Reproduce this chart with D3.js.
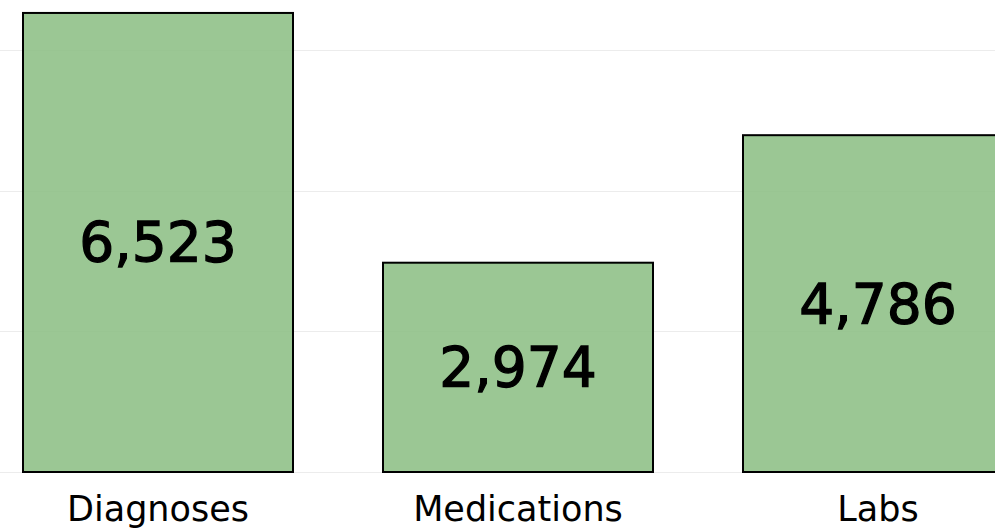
<!DOCTYPE html>
<html><head><meta charset="utf-8">
<script src="https://cdn.jsdelivr.net/npm/d3@7"></script>
<style>body{margin:0;background:#fff}svg{display:block}</style>
</head><body>
<svg id="c" width="995" height="528"></svg>
<script>
const categories = ["Diagnoses", "Medications", "Labs"];
const values = [6523, 2974, 4786];
const gridTicks = [0, 2000, 4000, 6000];

const svg = d3.select("#c");
const W = 995, H = 528;
const x = d3.scaleBand().domain(categories).range([-22, 1058]).paddingInner(0.25).paddingOuter(0.125);
const y = d3.scaleLinear().domain([0, 6707]).range([472, 0]);

svg.append("g").selectAll("line").data(gridTicks).join("line")
  .attr("x1", 0).attr("x2", W)
  .attr("y1", d => Math.round(y(d)) + 0.5).attr("y2", d => Math.round(y(d)) + 0.5)
  .attr("stroke", "#ececec").attr("stroke-width", 1);

svg.append("g").selectAll("rect").data(values).join("rect")
  .attr("x", (d, i) => x(categories[i]))
  .attr("y", d => y(d))
  .attr("width", x.bandwidth())
  .attr("height", d => y(0) - y(d))
  .attr("fill", "rgb(138,190,130)").attr("fill-opacity", 0.86)
  .attr("stroke", "#000").attr("stroke-width", 2);

const fmt = d3.format(",");
svg.append("g").selectAll("text").data(values).join("text")
  .attr("x", (d, i) => x(categories[i]) + x.bandwidth() / 2)
  .attr("y", d => (y(d) + y(0)) / 2)
  .attr("text-anchor", "middle").attr("dominant-baseline", "central")
  .attr("font-family", "DejaVu Sans").attr("font-size", 55)
  .attr("fill", "#000").attr("stroke", "#000").attr("stroke-width", 1.3)
  .text(d => fmt(d));

svg.append("g").selectAll("text").data(categories).join("text")
  .attr("x", d => x(d) + x.bandwidth() / 2)
  .attr("y", 521)
  .attr("text-anchor", "middle")
  .attr("font-family", "DejaVu Sans").attr("font-size", 35)
  .attr("fill", "#000")
  .text(d => d);
</script>
</body></html>
